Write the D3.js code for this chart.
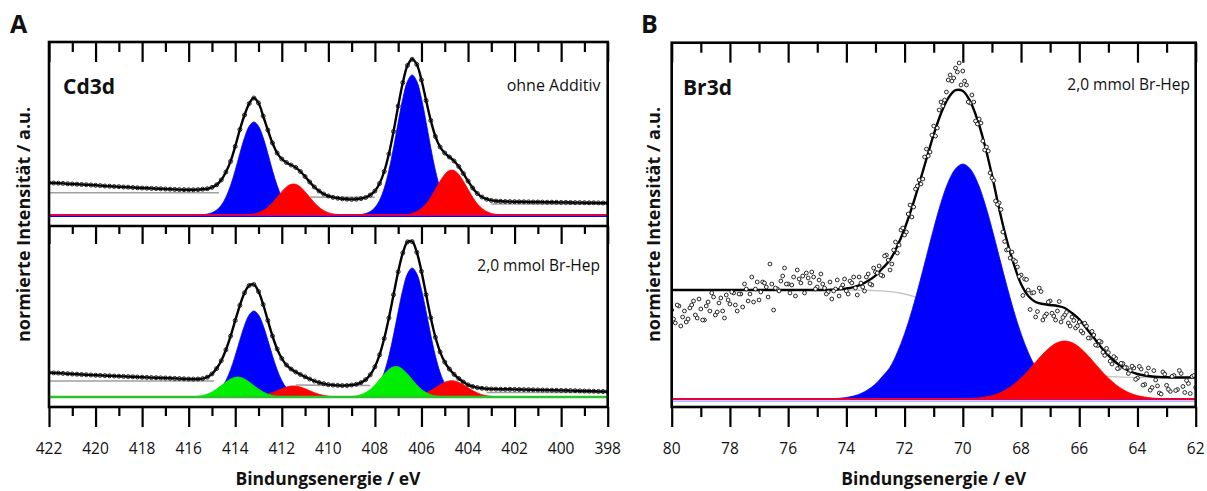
<!DOCTYPE html>
<html><head><meta charset="utf-8">
<script src="https://cdn.jsdelivr.net/npm/d3@7"></script>
<style>
body{margin:0;background:#fff;}
svg{display:block;}
</style></head><body>
<svg id="chart" width="1207" height="491"></svg>
<script>
// ---------------- DATA ----------------
// Panel A (Cd3d), binding energy 422 -> 398 eV, step 0.2 eV
const cdStart = 422, cdStep = 0.2;
const cdTickMajor = [422,420,418,416,414,412,410,408,406,404,402,400,398];
const cdTickMinor = [421,419,417,415,413,411,409,407,405,403,401,399];

// upper: "ohne Additiv"
const cdTopData = [32.3,32.0,31.8,31.6,31.2,31.0,30.8,30.5,30.3,30.0,
 29.7,29.4,29.0,28.8,28.5,28.3,28.0,27.8,27.5,27.2,
 27.0,26.8,26.6,26.4,26.2,26.0,25.8,25.6,25.4,25.3,
 25.2,25.2,25.4,25.8,26.3,27.6,30.2,35.0,43.0,53.6,
 68.6,85.5,100.0,111.4,117.0,112.0,99.0,85.0,72.0,62.0,
 56.0,52.5,50.0,47.5,43.5,38.5,33.0,28.0,24.0,21.0,
 19.0,17.6,16.8,16.2,15.8,15.6,15.8,16.4,17.5,20.0,
 24.0,31.5,43.5,61.0,83.5,109.0,132.5,149.5,155.7,150.5,
 135.0,114.5,94.5,78.5,68.0,62.0,58.0,54.0,48.5,41.5,
 34.0,27.0,21.5,18.0,15.8,14.6,14.0,13.7,13.5,13.4,
 13.3,13.2,13.2,13.1,13.0,13.0,12.9,12.8,12.8,12.7,
 12.6,12.6,12.5,12.4,12.4,12.3,12.2,12.2,12.1,12.0,12.0];
const cdTopBlue1Start = 415.4;
const cdTopBlue1 = [0.4,0.9,2.3,4.9,9.8,17.8,29.5,44.6,61.6,77.4,88.8,93,88.8,77.4,61.6,44.6,29.5,17.8,9.8,4.9,2.3,0.9,0.4];
const cdTopRed1Start = 413.6;
const cdTopRed1 = [0.2,0.5,1.1,2.3,4.5,7.7,12.2,17.7,23.3,28.0,30.7,30.7,28.0,23.3,17.7,12.2,7.7,4.5,2.3,1.1,0.5,0.2];
const cdTopBlue2Start = 408.6;
const cdTopBlue2 = [0.5,1.4,3.4,7.4,14.7,26.7,44.4,67.2,92.7,116.5,133.7,140,133.7,116.5,92.7,67.2,44.4,26.7,14.7,7.4,3.4,1.4,0.5];
const cdTopRed2Start = 406.8;
const cdTopRed2 = [0.3,0.7,1.6,3.4,6.5,11.2,17.8,25.7,33.8,40.6,44.5,44.5,40.6,33.8,25.7,17.8,11.2,6.5,3.4,1.6,0.7,0.3];
const cdTopBgE = [422,414.7,414.6,410.9,410.8,410.0,408.8,408.0,407.9,403.1,403.0,398];
const cdTopBg  = [22.3,22.3,null,null,18.0,17.8,17.8,17.7,null,null,11.05,11.0];

// lower: "2,0 mmol Br-Hep"
const cdBotData = [24.3,24.1,23.9,23.6,23.3,23.0,22.8,22.5,22.3,22.0,
 21.8,21.6,21.4,21.2,21.0,20.8,20.6,20.4,20.2,20.0,
 19.8,19.6,19.4,19.3,19.1,19.0,18.8,18.6,18.4,18.2,
 18.0,17.9,18.0,18.4,19.8,23.1,28.5,36.3,47.2,60.9,
 76.5,91.7,104.2,111.5,112.5,105.5,92.5,76.5,61.0,48.0,
 38.5,32.0,28.0,25.0,22.5,20.2,18.0,16.0,14.5,13.3,
 12.4,11.9,11.6,11.4,11.5,12.0,12.7,14.4,17.3,22.2,
 30.2,42.2,58.5,79.0,102.3,125.2,144.1,155.1,155.4,144.7,
 125.6,102.4,79.3,59.7,45.1,34.9,27.9,22.7,18.5,15.0,
 12.2,10.5,9.4,8.7,8.3,8.0,7.9,7.8,7.7,7.7,
 7.6,7.5,7.4,7.3,7.2,7.1,7.0,6.9,6.8,6.7,
 6.6,6.5,6.4,6.3,6.1,6.0,5.9,5.8,5.6,5.5,5.3];
const cdBotGreen1Start = 416.0;
const cdBotGreen1 = [0.1,0.3,0.7,1.5,2.9,5.0,7.9,11.4,15.0,18.0,19.8,19.8,18.0,15.0,11.4,7.9,5.0,2.9,1.5,0.7,0.3,0.1];
const cdBotBlue1Start = 415.4;
const cdBotBlue1 = [0.3,0.9,2.1,4.6,9.0,16.4,27.3,41.3,56.9,71.6,82.1,86,82.1,71.6,56.9,41.3,27.3,16.4,9.0,4.6,2.1,0.9,0.3];
const cdBotRed1Start = 413.4;
const cdBotRed1 = [0.2,0.4,0.8,1.6,2.7,4.3,6.3,8.3,9.9,10.9,10.9,9.9,8.3,6.3,4.3,2.7,1.6,0.8,0.4,0.2];
const cdBotGreen2Start = 409.2;
const cdBotGreen2 = [0.2,0.5,1.1,2.3,4.4,7.6,12.0,17.4,22.9,27.5,30.2,30.2,27.5,22.9,17.4,12.0,7.6,4.4,2.3,1.1,0.5,0.2];
const cdBotBlue2Start = 408.6;
const cdBotBlue2 = [0.5,1.3,3.1,6.8,13.5,24.6,40.9,61.9,85.4,107.3,123.2,129,123.2,107.3,85.4,61.9,40.9,24.6,13.5,6.8,3.1,1.3,0.5];
const cdBotRed2Start = 406.6;
const cdBotRed2 = [0.3,0.6,1.2,2.3,4.1,6.4,9.3,12.2,14.7,16.1,16.1,14.7,12.2,9.3,6.4,4.1,2.3,1.2,0.6,0.3];
const cdBotBgE = [422,414.9,414.8,411.5,411.4,410.0,408.8,408.2,408.1,403.3,403.2,398];
const cdBotBg  = [16,16,null,null,11.95,11.6,11.6,11.5,null,null,4.5,4.5];

// Panel B (Br3d), 80 -> 62 eV
const brTickMajor = [80,78,76,74,72,70,68,66,64,62];
const brTickMinor = [79,77,75,73,71,69,67,65,63];
// measured points, first pass (80.0 -> 62.0, step 0.125 eV)
const brDataStart = 80, brDataStep = 0.125;
const brData = [89,76,93,82,77,91,98,81,90,79,97,106,84,96,88,104,95,106,88,105,
 115,98,122,110,99,117,112,135,89,110,118,131,115,114,103,120,123,126,116,122,
 112,125,111,107,100,110,103,114,108,118,122,104,116,108,125,114,127,
 133,123,144,129,149,146,169,164,185,182,210,219,220,250,247,273,271,297,299,319,
 318,331,336,328,314,296,297,275,276,249,248,221,198,196,167,149,141,139,132,124,
 120,109,106,82,111,79,85,98,83,88,77,84,76,82,71,77,66,73,61,64,
 53.5,57,43.6,46.5,35,40.7,31,35.4,31.4,28.5,31,21,30,14.5,31,11.5,19,6,27,13.7,
 7.6,23.5,9.5,25.5,6.5,15.5,22.5,11.5];
// measured points, interleaved (79.9375 -> 62.0625, step 0.125 eV)
const brData2Start = 79.9375;
const brData2 = [80,94,73,88,80,94,84,100,79,93,
 88,102,87,101,81,99,107,94,105,92,
 110,105,97,117,107,116,102,115,111,108,
 123,115,106,122,129,116,106,121,127,110,
 119,115,105,117,108,119,111,120,105,116,
 111,122,112,122,115,131,126,124,143,139,
 135,157,154,171,167,194,192,213,215,242,
 243,264,263,289,293,307,324,321,327,314,
 318,297,304,278,280,258,252,226,218.5,194.5,
 189.5,157.5,149.5,147,137.5,122.5,103.5,119.5,89.5,106.5,
 87.5,107.5,82.75,97,85.75,79,97.5,81.5,86.75,73,
 78.5,73,68,75.8,61,67.6,54,58,46.7,50.6,
 37.8,42.4,30.4,35.7,31.4,25.5,32.9,19.6,32.6,13.9,
 25.3,8.8,28.4,13.1,4.9,24.8,9.7,22.6,8.5,28.5,
 12.5,18.5,5.5,23.5];
const brFitStart = 80, brFitStep = 0.25;
const brFit = [109,109,109,109,109,109,109,109,109,109,109,109,109,109,109,109,109,109,109,109,109,109,
 109.3,109.7,110.5,111.9,114.3,118.2,123.4,131,139.1,152.9,170.3,191.3,215.1,240,264.3,285.5,300.9,308.8,308,
 297.9,279.5,254.5,224,190,160,135,115,103,97,95,94,93,91,86,79.6,70.6,61.2,51.8,43.5,36.7,31.4,27.5,25,23.5,22.5,22,21.7,21.5,21.5,21.5,21.5];
const brBlueStart = 74.5, brCompStep = 0.25;
const brBlue = [0.3,0.7,1.5,3,5.5,9.5,15,23,31.8,46.5,65.3,88.2,114.4,142.5,170.6,196.3,216.9,230.3,235,
 230.3,216.9,196.3,170.6,142.5,114.4,88.2,65.3,46.5,31.8,23,15,9.5,5.5,3,1.5,0.7,0.3];
const brRedStart = 70.0;
const brRed = [0.2,0.5,1.0,1.9,3.4,5.8,9.5,14.5,20.9,28.5,36.8,44.9,51.8,56.4,58,56.4,51.8,44.9,36.8,28.5,20.9,14.5,9.5,5.8,3.4,1.9,1.0,0.5,0.2];
const brBgStart = 80, brBgStep = 0.5;
const brBg = [109,109,109,109,109,109,109,109,109,109,109,109,109,
 108.8,108.4,107.3,105,100.7,93.7,84,72.8,61.6,51.8,44.5,39.5,35.7,32.4,29.2,26.3,24.1,22.6,21.9,21.6,21.5,21.5,21.5,21.5];

// ---------------- DRAWING ----------------
const svg = d3.select('#chart');
const FONT = '"Open Sans", "DejaVu Sans", sans-serif';
const BLUE = '#0000ff', RED = '#ff0000', GREEN = '#00ee00';

const seq = (start, step, vals) => vals.map((v, i) => [start - i * step, v]);
const zip = (es, vs) => es.map((e, i) => [e, vs[i]]);

const xA = d3.scaleLinear().domain([422, 398]).range([49, 607.7]);
const xB = d3.scaleLinear().domain([80, 62]).range([671.7, 1195.7]);
const yAT = d3.scaleLinear().domain([-11, 173]).range([226, 42]);
const yAB = d3.scaleLinear().domain([-10, 171]).range([407, 226]);
const yB = d3.scaleLinear().domain([-8, 356.3]).range([407, 42.7]);

const defs = svg.append('defs');
function clip(id, x, y) {
  const [x0, x1] = x.range(), [y0, y1] = y.range();
  defs.append('clipPath').attr('id', id).append('rect')
    .attr('x', x0).attr('y', y1).attr('width', x1 - x0).attr('height', y0 - y1);
  return svg.append('g').attr('clip-path', `url(#${id})`);
}

function fill(g, data, x, y, color) {
  g.append('path').datum(data)
    .attr('d', d3.area().x(d => x(d[0])).y0(y(0)).y1(d => y(d[1])).curve(d3.curveCatmullRom))
    .attr('fill', color).attr('stroke', color).attr('stroke-width', 0.8);
}
function line(g, data, x, y, color, w, curve) {
  g.append('path').datum(data)
    .attr('d', d3.line().defined(d => d[1] != null).x(d => x(d[0])).y(d => y(d[1])).curve(curve || d3.curveLinear))
    .attr('fill', 'none').attr('stroke', color).attr('stroke-width', w);
}
function baseline(g, x, y, color, w, dy) {
  const d = x.domain();
  g.append('line').attr('x1', x(d[0])).attr('x2', x(d[1]))
    .attr('y1', y(0) + (dy || 0)).attr('y2', y(0) + (dy || 0))
    .attr('stroke', color).attr('stroke-width', w);
}
function dots(g, data, x, y, r, fillc, sw) {
  g.append('g').selectAll('circle').data(data).join('circle')
    .attr('cx', d => x(d[0])).attr('cy', d => y(d[1])).attr('r', r)
    .attr('fill', fillc).attr('stroke', '#111').attr('stroke-width', sw);
}
function ticks(x, ypos, vals, len) {
  const g = svg.append('g').attr('transform', `translate(0,${ypos})`)
    .call(d3.axisBottom(x).tickValues(vals).tickSize(len).tickFormat(''));
  g.select('.domain').remove();
  g.selectAll('line').attr('stroke', '#000').attr('stroke-width', 2.2);
}
function labels(x, vals, ypos) {
  svg.append('g').selectAll('text').data(vals).join('text')
    .attr('x', d => x(d)).attr('y', ypos).attr('text-anchor', 'middle')
    .attr('font-family', FONT).attr('font-size', 15.5).attr('fill', '#111').text(d => d);
}
function txt(x, y, s, size, weight, anchor) {
  return svg.append('text').attr('x', x).attr('y', y).attr('font-family', FONT)
    .attr('font-size', size).attr('font-weight', weight).attr('text-anchor', anchor || 'start')
    .attr('fill', '#111').text(s);
}

const cdE = cdTopData.map((v, i) => cdStart - i * cdStep);

// ---- Panel A upper ----
{
  const g = clip('cA1', xA, yAT);
  line(g, zip(cdTopBgE, cdTopBg), xA, yAT, '#a0a0a0', 1.6);
  fill(g, seq(cdTopBlue1Start, cdStep, cdTopBlue1), xA, yAT, BLUE);
  fill(g, seq(cdTopBlue2Start, cdStep, cdTopBlue2), xA, yAT, BLUE);
  fill(g, seq(cdTopRed1Start, cdStep, cdTopRed1), xA, yAT, RED);
  fill(g, seq(cdTopRed2Start, cdStep, cdTopRed2), xA, yAT, RED);
  baseline(g, xA, yAT, BLUE, 1.5, 1.2);
  baseline(g, xA, yAT, '#e0004a', 2);
  const d = cdTopData.map((v, i) => [cdE[i], v]);
  line(g, d, xA, yAT, '#000', 2.4, d3.curveCatmullRom);
  dots(g, d, xA, yAT, 2, 'none', 0.9);
}
// ---- Panel A lower ----
{
  const g = clip('cA2', xA, yAB);
  line(g, zip(cdBotBgE, cdBotBg), xA, yAB, '#a0a0a0', 1.6);
  fill(g, seq(cdBotBlue1Start, cdStep, cdBotBlue1), xA, yAB, BLUE);
  fill(g, seq(cdBotBlue2Start, cdStep, cdBotBlue2), xA, yAB, BLUE);
  fill(g, seq(cdBotRed1Start, cdStep, cdBotRed1), xA, yAB, RED);
  fill(g, seq(cdBotRed2Start, cdStep, cdBotRed2), xA, yAB, RED);
  fill(g, seq(cdBotGreen1Start, cdStep, cdBotGreen1), xA, yAB, GREEN);
  fill(g, seq(cdBotGreen2Start, cdStep, cdBotGreen2), xA, yAB, GREEN);
  baseline(g, xA, yAB, '#2ec12e', 2.5);
  const d = cdBotData.map((v, i) => [cdE[i], v]);
  line(g, d, xA, yAB, '#000', 2.4, d3.curveCatmullRom);
  dots(g, d, xA, yAB, 2, 'none', 0.9);
}
// ---- Panel B ----
{
  const g = clip('cB', xB, yB);
  line(g, seq(brBgStart, brBgStep, brBg), xB, yB, '#c4c4c4', 1.3, d3.curveMonotoneX);
  fill(g, seq(brBlueStart, brCompStep, brBlue), xB, yB, BLUE);
  fill(g, seq(brRedStart, brCompStep, brRed), xB, yB, RED);
  baseline(g, xB, yB, '#9a9aff', 1.2, 2.2);
  baseline(g, xB, yB, '#e8003c', 2.2);
  line(g, seq(brFitStart, brFitStep, brFit), xB, yB, '#000', 2.4, d3.curveCatmullRom);
  dots(g, seq(brDataStart, brDataStep, brData), xB, yB, 1.9, '#fff', 0.9);
  dots(g, seq(brData2Start, brDataStep, brData2), xB, yB, 1.9, '#fff', 0.9);
}

// ---- ticks ----
ticks(xA, 42, cdTickMajor, 20); ticks(xA, 42, cdTickMinor, 10);
ticks(xA, 226, cdTickMajor, 18); ticks(xA, 226, cdTickMinor, 8);
ticks(xA, 407, cdTickMajor, 20); ticks(xA, 407, cdTickMinor, 9);
ticks(xB, 42.7, brTickMajor, 20); ticks(xB, 42.7, brTickMinor, 10);
ticks(xB, 407, brTickMajor, 20); ticks(xB, 407, brTickMinor, 10);
labels(xA, cdTickMajor, 453.5);
labels(xB, brTickMajor, 453.5);

// ---- frames ----
svg.append('rect').attr('x', 49).attr('y', 42).attr('width', 607.7 - 49).attr('height', 407 - 42)
  .attr('fill', 'none').attr('stroke', '#000').attr('stroke-width', 2.6);
svg.append('line').attr('x1', 49).attr('x2', 607.7).attr('y1', 226).attr('y2', 226)
  .attr('stroke', '#000').attr('stroke-width', 2.6);
svg.append('rect').attr('x', 671.7).attr('y', 42.7).attr('width', 1195.7 - 671.7).attr('height', 407 - 42.7)
  .attr('fill', 'none').attr('stroke', '#000').attr('stroke-width', 2.6);

// ---- texts ----
txt(10, 33, 'A', 25, 700);
txt(641, 33, 'B', 25, 700);
txt(63, 94, 'Cd3d', 21, 700);
txt(683, 95, 'Br3d', 21, 700);
txt(600.5, 91, 'ohne Additiv', 16, 400, 'end');
txt(600, 271, '2,0 mmol Br-Hep', 15.5, 400, 'end');
txt(1190, 90, '2,0 mmol Br-Hep', 15.5, 400, 'end');
txt(328, 485, 'Bindungsenergie / eV', 17.5, 700, 'middle');
txt(933.7, 485, 'Bindungsenergie / eV', 17.5, 700, 'middle');
svg.append('text').attr('transform', 'translate(30,224.5) rotate(-90)').attr('text-anchor', 'middle')
  .attr('font-family', FONT).attr('font-size', 18).attr('font-weight', 700).attr('fill', '#111')
  .text('normierte Intensität / a.u.');
svg.append('text').attr('transform', 'translate(660,224.5) rotate(-90)').attr('text-anchor', 'middle')
  .attr('font-family', FONT).attr('font-size', 18).attr('font-weight', 700).attr('fill', '#111')
  .text('normierte Intensität / a.u.');
</script>
</body></html>
